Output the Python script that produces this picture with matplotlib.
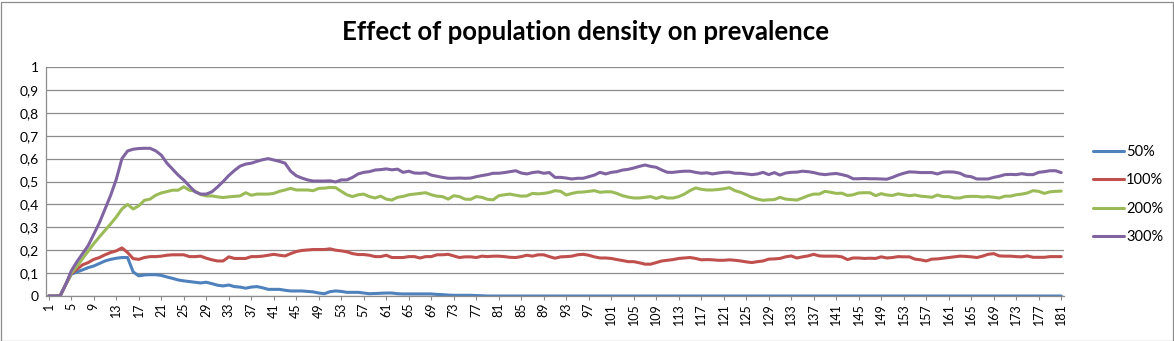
import matplotlib
matplotlib.use("Agg")
import matplotlib.pyplot as plt
import numpy as np

# time steps 1..181
steps = list(range(1, 182))

# prevalence per density level
p50 = [
    0, 0, 0, 0.05, 0.095, 0.105, 0.114, 0.124, 0.131, 0.142,
    0.153, 0.16, 0.165, 0.168, 0.168, 0.105, 0.088, 0.092, 0.093, 0.093,
    0.09, 0.083, 0.077, 0.07, 0.066, 0.063, 0.06, 0.057, 0.06, 0.054,
    0.047, 0.044, 0.048, 0.041, 0.039, 0.034, 0.039, 0.041, 0.036, 0.029,
    0.029, 0.029, 0.025, 0.022, 0.022, 0.022, 0.02, 0.018, 0.013, 0.01,
    0.019, 0.022, 0.02, 0.016, 0.016, 0.016, 0.013, 0.01, 0.011, 0.012,
    0.013, 0.013, 0.01, 0.009, 0.009, 0.009, 0.009, 0.009, 0.009, 0.007,
    0.006, 0.004, 0.003, 0.003, 0.003, 0.003, 0.002, 0.001, 0, 0,
    0, 0, 0, 0, 0, 0, 0, 0, 0, 0,
    0, 0, 0, 0, 0, 0, 0, 0, 0, 0,
    0, 0, 0, 0, 0, 0, 0, 0, 0, 0,
    0, 0, 0, 0, 0, 0, 0, 0, 0, 0,
    0, 0, 0, 0, 0, 0, 0, 0, 0, 0,
    0, 0, 0, 0, 0, 0, 0, 0, 0, 0,
    0, 0, 0, 0, 0, 0, 0, 0, 0, 0,
    0, 0, 0, 0, 0, 0, 0, 0, 0, 0,
    0, 0, 0, 0, 0, 0, 0, 0, 0, 0,
    0, 0, 0, 0, 0, 0, 0, 0, 0, 0, 0,
]

p100 = [
    0, 0, 0, 0.05, 0.098, 0.117, 0.136, 0.146, 0.16, 0.168,
    0.18, 0.19, 0.197, 0.21, 0.19, 0.163, 0.16, 0.168, 0.172, 0.172,
    0.174, 0.178, 0.18, 0.18, 0.18, 0.172, 0.172, 0.174, 0.165, 0.158,
    0.153, 0.153, 0.171, 0.164, 0.164, 0.164, 0.172, 0.172, 0.174, 0.178,
    0.182, 0.178, 0.175, 0.185, 0.194, 0.199, 0.201, 0.203, 0.203, 0.203,
    0.206, 0.2, 0.197, 0.193, 0.185, 0.181, 0.181, 0.178, 0.172, 0.172,
    0.178, 0.168, 0.168, 0.168, 0.172, 0.172, 0.166, 0.172, 0.172, 0.18,
    0.18, 0.182, 0.175, 0.168, 0.171, 0.171, 0.168, 0.174, 0.172, 0.174,
    0.174, 0.172, 0.169, 0.168, 0.172, 0.178, 0.174, 0.18, 0.18, 0.172,
    0.165, 0.171, 0.172, 0.174, 0.18, 0.182, 0.178, 0.171, 0.166, 0.166,
    0.164, 0.159, 0.155, 0.15, 0.15, 0.145, 0.139, 0.139, 0.146, 0.153,
    0.156, 0.159, 0.164, 0.166, 0.168, 0.164, 0.158, 0.159, 0.158, 0.156,
    0.156, 0.158, 0.156, 0.153, 0.149, 0.146, 0.15, 0.153, 0.161, 0.162,
    0.164, 0.171, 0.175, 0.166, 0.171, 0.175, 0.182, 0.175, 0.174, 0.174,
    0.174, 0.171, 0.159, 0.166, 0.166, 0.164, 0.165, 0.164, 0.171, 0.166,
    0.168, 0.172, 0.171, 0.171, 0.161, 0.158, 0.153, 0.161, 0.162, 0.165,
    0.168, 0.171, 0.174, 0.173, 0.171, 0.168, 0.174, 0.182, 0.185, 0.175,
    0.174, 0.174, 0.172, 0.171, 0.175, 0.169, 0.169, 0.169, 0.172, 0.172, 0.172,
]

p200 = [
    0, 0, 0, 0.05, 0.1, 0.13, 0.163, 0.196, 0.229, 0.258,
    0.287, 0.315, 0.345, 0.38, 0.4, 0.38, 0.394, 0.418, 0.423, 0.44,
    0.45, 0.456, 0.462, 0.462, 0.477, 0.462, 0.458, 0.443, 0.437, 0.437,
    0.433, 0.43, 0.433, 0.435, 0.437, 0.451, 0.44, 0.445, 0.445, 0.445,
    0.448, 0.457, 0.463, 0.47, 0.463, 0.463, 0.463, 0.46, 0.47, 0.471,
    0.474, 0.473, 0.457, 0.442, 0.434, 0.442, 0.445, 0.434, 0.428, 0.436,
    0.423, 0.419, 0.431, 0.435, 0.442, 0.445, 0.448, 0.451, 0.442, 0.436,
    0.434, 0.423, 0.438, 0.434, 0.423, 0.422, 0.434, 0.431, 0.422, 0.42,
    0.438, 0.442, 0.445, 0.44, 0.436, 0.437, 0.448, 0.446, 0.448, 0.452,
    0.46, 0.457, 0.441, 0.448, 0.453, 0.454, 0.457, 0.46, 0.453, 0.455,
    0.455, 0.448, 0.438, 0.432, 0.428, 0.428, 0.431, 0.434, 0.426, 0.434,
    0.428, 0.428, 0.434, 0.445, 0.46, 0.472, 0.466, 0.463, 0.463, 0.465,
    0.468, 0.473, 0.46, 0.453, 0.442, 0.431, 0.423, 0.418, 0.42, 0.421,
    0.431, 0.423, 0.421, 0.419, 0.428, 0.438, 0.445, 0.445, 0.457, 0.453,
    0.448, 0.449, 0.439, 0.442, 0.45, 0.451, 0.451, 0.438, 0.447, 0.441,
    0.439, 0.446, 0.442, 0.438, 0.441, 0.436, 0.434, 0.431, 0.441, 0.434,
    0.434, 0.428, 0.428, 0.434, 0.435, 0.435, 0.432, 0.434, 0.431, 0.428,
    0.436, 0.436, 0.442, 0.445, 0.45, 0.46, 0.457, 0.448, 0.455, 0.457, 0.458,
]

p300 = [
    0, 0, 0, 0.05, 0.11, 0.15, 0.185, 0.22, 0.27, 0.32,
    0.38, 0.44, 0.51, 0.6, 0.633, 0.641, 0.644, 0.645, 0.645, 0.634,
    0.615, 0.58, 0.554, 0.528, 0.506, 0.48, 0.455, 0.445, 0.445, 0.455,
    0.476, 0.5, 0.526, 0.548, 0.567, 0.576, 0.58, 0.588, 0.595, 0.6,
    0.594, 0.588, 0.58, 0.545, 0.525, 0.515, 0.507, 0.502, 0.502, 0.502,
    0.503, 0.498, 0.507, 0.507, 0.518, 0.533, 0.54, 0.543, 0.55, 0.552,
    0.555, 0.551, 0.554, 0.54, 0.545, 0.537, 0.536, 0.538, 0.528, 0.523,
    0.518, 0.514, 0.514, 0.515, 0.514, 0.515, 0.521, 0.526, 0.53, 0.536,
    0.536, 0.539, 0.543, 0.547, 0.537, 0.533, 0.539, 0.542, 0.536, 0.539,
    0.518, 0.518, 0.515, 0.511, 0.514, 0.514, 0.521, 0.528, 0.54, 0.533,
    0.54, 0.543, 0.55, 0.553, 0.559, 0.566, 0.572, 0.566, 0.562, 0.55,
    0.54, 0.54, 0.543, 0.545, 0.545, 0.54, 0.536, 0.538, 0.533, 0.537,
    0.54, 0.541, 0.536, 0.536, 0.533, 0.53, 0.533, 0.54, 0.53, 0.539,
    0.528, 0.537, 0.54, 0.541, 0.545, 0.543, 0.539, 0.533, 0.53, 0.533,
    0.535, 0.53, 0.524, 0.512, 0.512, 0.513, 0.512, 0.512, 0.511, 0.51,
    0.518, 0.528, 0.536, 0.542, 0.541, 0.539, 0.539, 0.539, 0.533, 0.541,
    0.542, 0.541, 0.536, 0.524, 0.521, 0.511, 0.511, 0.511, 0.518, 0.523,
    0.53, 0.531, 0.53, 0.534, 0.53, 0.53, 0.54, 0.543, 0.547, 0.547, 0.539,
]

labels = ["50%", "100%", "200%", "300%"]
colors = ["#4F81BD", "#C0504D", "#9BBB59", "#8064A2"]
yticks = [0, 0.1, 0.2, 0.3, 0.4, 0.5, 0.6, 0.7, 0.8, 0.9, 1]

plt.rcParams["font.family"] = ["Lato", "DejaVu Sans"]

W, H = 1174, 341
fig = plt.figure(figsize=(W / 100, H / 100), dpi=100)
ax = fig.add_axes([46 / W, 1 - 296 / H, (1064 - 46) / W, (296 - 67) / H])

for ys, lb, c in zip([p50, p100, p200, p300], labels, colors):
    ax.plot(steps, ys, color=c, lw=2.2, label=lb, solid_capstyle="round")

ax.set_xlim(0.5, 181.5)
ax.set_ylim(0, 1)
ax.set_yticks(yticks)
ax.set_yticklabels([("%g" % v).replace(".", ",") for v in yticks], fontsize=10)
ax.set_xticks(steps[::4])
ax.set_xticklabels([str(s) for s in steps[::4]], rotation=90, fontsize=9)
ax.grid(axis="y", color="#8c8c8c", lw=0.9)
ax.set_axisbelow(True)
for s in ["top", "right"]:
    ax.spines[s].set_visible(False)
for s in ["left", "bottom"]:
    ax.spines[s].set_color("#8c8c8c")
    ax.spines[s].set_linewidth(0.9)
ax.tick_params(axis="y", length=0, pad=5)
ax.tick_params(axis="x", length=3, color="#8c8c8c", pad=2)

fig.text(586 / W, 1 - 32 / H, "Effect of population density on prevalence",
         ha="center", va="center", fontsize=18.5, fontweight="bold")

fig.legend(loc="center left", bbox_to_anchor=(1080 / W, 1 - 194.5 / H),
           frameon=False, fontsize=10.5, handlelength=2.1, handletextpad=0.15,
           labelspacing=0.99)

# chart area border
fig.patches.append(plt.Rectangle((0.5 / W, 0.5 / H), 1 - 2 / W, 1 - 2 / H,
                                 transform=fig.transFigure, fill=False,
                                 ec="#8c8c8c", lw=0.9))

fig.savefig("out.png", dpi=100)
